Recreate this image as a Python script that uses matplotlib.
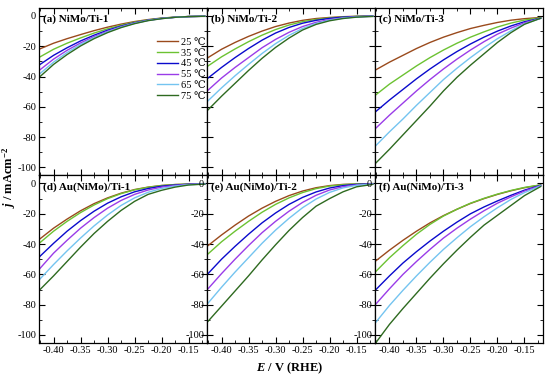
import numpy as np
import matplotlib
matplotlib.use('Agg')
import matplotlib.pyplot as plt
from matplotlib.ticker import MultipleLocator

plt.rcParams['font.family'] = ['Liberation Serif', 'DejaVu Serif']
plt.rcParams['mathtext.fontset'] = 'custom'
plt.rcParams['mathtext.rm'] = 'Liberation Serif:bold'
plt.rcParams['mathtext.it'] = 'Liberation Serif:italic:bold'
plt.rcParams['axes.unicode_minus'] = False

# potential grid (V vs RHE)
E = [-0.425, -0.40, -0.375, -0.35, -0.325, -0.30, -0.275, -0.25, -0.225, -0.20, -0.175, -0.15, -0.12]

temps = ['25 \u2103', '35 \u2103', '45 \u2103', '55 \u2103', '65 \u2103', '75 \u2103']
colors = ['#9a4a1c', '#6cc232', '#0a0acc', '#9a3ce8', '#74c4f0', '#2e6a20']

titles = ['(a) NiMo/Ti-1', '(b) NiMo/Ti-2', '(c) NiMo/Ti-3',
          '(d) Au(NiMo)/Ti-1', '(e) Au(NiMo)/Ti-2', '(f) Au(NiMo)/Ti-3']

# current density j (mA cm-2), one list per temperature
a_j = [
    [-21.7, -18, -15, -12.3, -9.7, -7.4, -5.4, -3.7, -2.4, -1.4, -0.8, -0.4, -0.2],
    [-27, -22, -18, -14.5, -11.3, -8.5, -6.1, -4.1, -2.6, -1.5, -0.8, -0.4, -0.2],
    [-32, -26, -21, -16.5, -12.7, -9.4, -6.7, -4.5, -2.8, -1.6, -0.9, -0.4, -0.2],
    [-35.5, -28.5, -22.7, -17.8, -13.6, -10.1, -7.1, -4.7, -2.9, -1.7, -0.9, -0.4, -0.2],
    [-38, -30.5, -24.2, -18.8, -14.3, -10.5, -7.4, -4.9, -3, -1.7, -0.9, -0.4, -0.2],
    [-40, -32, -25.5, -19.8, -15, -11, -7.7, -5.1, -3.1, -1.8, -0.9, -0.4, -0.2],
]
b_j = [
    [-27.5, -22, -17.5, -13.5, -10, -7, -4.7, -2.9, -1.7, -1, -0.5, -0.2, -0.1],
    [-33, -27, -21.8, -17, -12.7, -9, -6, -3.8, -2.3, -1.3, -0.7, -0.3, -0.1],
    [-41, -34, -27.5, -21.5, -16, -11.3, -7.6, -4.8, -2.9, -1.6, -0.8, -0.4, -0.1],
    [-49, -41, -34, -27.5, -21, -15.5, -10.8, -7, -4.2, -2.4, -1.2, -0.6, -0.2],
    [-56, -47.5, -39.5, -32, -24.8, -18.3, -12.8, -8.3, -5, -2.8, -1.4, -0.7, -0.2],
    [-62, -53, -44.5, -36, -28, -20.8, -14.6, -9.3, -5.6, -3.2, -1.7, -0.8, -0.3],
]
c_j = [
    [-35.5, -30.5, -26, -21.5, -17.5, -14, -11, -8.3, -6.2, -4.3, -2.8, -1.8, -1.0],
    [-52, -45, -39, -33, -27.5, -22.5, -18, -14, -10.5, -7.3, -4.7, -2.7, -1.2],
    [-63, -55.5, -48.5, -41.5, -35, -29, -23.5, -18.5, -14, -10, -6.6, -3.8, -1.5],
    [-74, -65.5, -57.5, -49.5, -42, -35, -28.5, -22.5, -17, -12, -8, -4.5, -1.6],
    [-85.5, -76.5, -68, -59, -50.5, -42, -34.5, -27.5, -21, -15, -9.8, -5.2, -1.6],
    [-97, -88, -78.5, -69, -59.5, -49.5, -40.5, -32.5, -25, -17.5, -11, -5.5, -1.5],
]
d_j = [
    [-36.5, -29.5, -23.5, -18, -13.3, -9.5, -6.4, -4, -2.4, -1.3, -0.7, -0.4, -0.2],
    [-39, -31.5, -25, -19.2, -14.2, -10, -6.7, -4.2, -2.5, -1.4, -0.7, -0.4, -0.2],
    [-48, -39.5, -31.5, -24.5, -18.3, -13, -8.8, -5.5, -3.3, -1.8, -1, -0.5, -0.2],
    [-56, -46, -37.5, -29.5, -22.5, -16.3, -11.2, -7.2, -4.3, -2.4, -1.3, -0.6, -0.3],
    [-63, -53.5, -44.5, -36, -28, -20.8, -14.5, -9.5, -5.8, -3.3, -1.7, -0.8, -0.3],
    [-70, -61, -51.5, -42, -33, -25, -17.8, -11.8, -7.2, -4.5, -2.4, -1, -0.4],
]
e_j = [
    [-41, -34, -27.5, -21.5, -16.3, -11.8, -8, -5, -2.8, -1.4, -0.6, -0.3, -0.1],
    [-46.5, -38.5, -31.5, -25, -19, -13.8, -9.5, -6, -3.4, -1.7, -0.8, -0.3, -0.1],
    [-59.5, -50, -41.5, -33.5, -26, -19.5, -13.8, -9.2, -5.6, -3, -1.4, -0.6, -0.2],
    [-69.5, -59.5, -50, -41, -32.5, -25, -18.3, -12.5, -7.8, -4.3, -2.1, -0.9, -0.3],
    [-79, -68.5, -58.5, -49, -39.5, -30.8, -23, -16, -10.3, -5.9, -2.9, -1.2, -0.4],
    [-91, -81, -71, -61, -50.5, -40.5, -31, -22.5, -15, -10, -5.5, -2.2, -0.6],
]
f_j = [
    [-51, -44, -37.5, -31.5, -26, -21.2, -17, -13.2, -10, -7.2, -4.8, -2.8, -1],
    [-58, -49, -41, -33.5, -27, -21.5, -17, -13, -9.8, -7, -4.6, -2.6, -0.9],
    [-70, -61, -52.5, -45, -38, -31.5, -25.5, -20, -15.5, -11.5, -7.8, -4.4, -1.2],
    [-79.5, -69.5, -60, -51.5, -43.5, -36, -29.5, -23.5, -18, -13, -8.8, -5, -1.4],
    [-91.5, -80.5, -70.5, -61, -52, -43.5, -35.8, -28.5, -22, -16, -10.5, -6, -1.6],
    [-105, -93, -82.5, -72.5, -62.5, -53, -44, -35.5, -27.5, -21, -14.5, -8, -2],
]
panels = [a_j, b_j, c_j, d_j, e_j, f_j]

fig, axs = plt.subplots(2, 3, figsize=(5.5, 3.77), dpi=100, sharex=True, sharey=True)
fig.subplots_adjust(left=0.0709, right=0.987, top=0.979, bottom=0.0902, wspace=0, hspace=0)

for k, ax in enumerate(axs.flat):
    for i in range(6):
        ax.plot(E, panels[k][i], color=colors[i], lw=1.0, label=temps[i])
    ax.set_xlim(-0.427, -0.116)
    ax.set_ylim(-105.3, 5.3)
    ax.xaxis.set_major_locator(MultipleLocator(0.05))
    ax.xaxis.set_minor_locator(MultipleLocator(0.025))
    ax.yaxis.set_major_locator(MultipleLocator(20))
    ax.yaxis.set_minor_locator(MultipleLocator(10))
    ax.tick_params(which='both', direction='in', top=True, right=True, labelsize=7.5, pad=2)
    ax.tick_params(which='major', length=4)
    ax.tick_params(which='minor', length=2)
    for s in ax.spines.values():
        s.set_linewidth(0.9)
    ax.text(0.025, 0.93, titles[k], transform=ax.transAxes, fontsize=8,
            fontweight='bold', va='center', ha='left')
    row, col = divmod(k, 3)
    ax.tick_params(labelbottom=(row == 1))
    ax.tick_params(labelleft=(col == 0 or row == 1))

axs[1, 0].xaxis.set_major_formatter(matplotlib.ticker.FormatStrFormatter('%.2f'))

axs[0, 0].legend(loc='upper left', bbox_to_anchor=(0.67, 0.855), frameon=False,
                 fontsize=7.5, handlelength=2.0, labelspacing=0.15, borderpad=0,
                 handletextpad=0.35)

fig.text(0.527, 0.022, '$E$ / V (RHE)', ha='center', va='center', fontsize=9, fontweight='bold')
fig.text(0.016, 0.53, '$j$ / mAcm$^{-2}$', ha='center', va='center', fontsize=9,
         fontweight='bold', rotation=90)

plt.savefig('out.png', dpi=100)
